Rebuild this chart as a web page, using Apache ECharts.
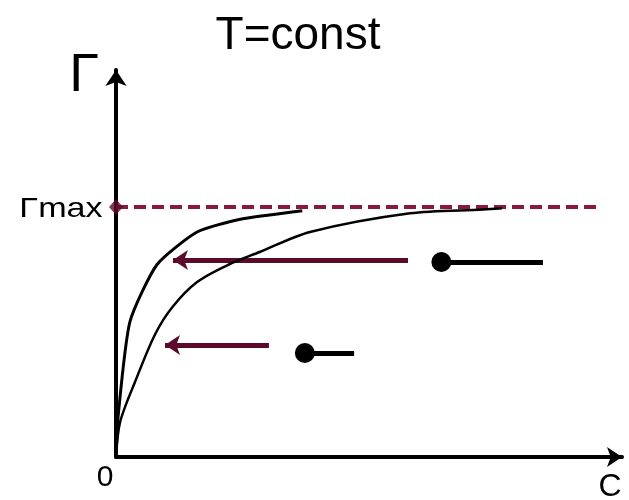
<!DOCTYPE html>
<html>
<head>
<meta charset="utf-8">
<script src="https://cdn.jsdelivr.net/npm/echarts@6/dist/echarts.min.js"></script>
<style>
  html, body { margin: 0; padding: 0; background: #fff; }
  #chart { width: 629px; height: 500px; }
</style>
</head>
<body>
<div id="chart"></div>
<script>
// Adsorption isotherms at constant temperature: surface excess Γ against concentration C.
// Γ is expressed in units of Γmax; C in arbitrary units.
const upperIsotherm = [[0, 0], [0.4, 0.16], [2.7, 0.54], [8, 0.77], [15.8, 0.9], [24, 0.95], [36.3, 0.985]];
const lowerIsotherm = [[0, 0], [0.8, 0.14], [3.7, 0.3], [7.6, 0.49], [11, 0.6], [15.8, 0.7], [22, 0.77],
                       [28, 0.82], [37.8, 0.9], [57.3, 0.975], [71.5, 0.99], [75.2, 0.995]];
const gammaMax = 1;
const gammaMaxLineEnd = 94.3;
// Arrows pointing towards the isotherms: [from C, to C, Γ]
const arrows = [[56.9, 11.1, 0.788], [29.8, 9.55, 0.448]];
// Molecule sketches (head circle + tail): [head C, tail end C, Γ]
const molecules = [[63.4, 83.2, 0.78], [36.8, 46.4, 0.416]];
const axisMax = { c: 98.6, gamma: 1.548 };
const labels = { title: 'T=const', yName: 'Γ', gammaMax: 'Γmax', origin: '0', xName: 'C' };

const maroon = '#8a1840';
const arrowColor = '#5c0a2b';
const fontFamily = '"Liberation Sans", Arial, sans-serif';

const chart = echarts.init(document.getElementById('chart'), null, { renderer: 'canvas' });

const axisCommon = {
  type: 'value',
  axisTick: { show: false },
  axisLabel: { show: false },
  splitLine: { show: false },
};

function label(text, x, y, size, extra) {
  return Object.assign({
    type: 'text', x: x, y: y,
    style: { text: text, fontSize: size, fontFamily: fontFamily, fill: '#000',
             align: 'center', verticalAlign: 'middle' },
  }, extra || {});
}

chart.setOption({
  animation: false,
  backgroundColor: '#ffffff',
  grid: { left: 116, right: 7, top: 70, bottom: 43 },
  xAxis: Object.assign({}, axisCommon, {
    min: 0, max: axisMax.c,
    axisLine: { show: true, symbol: ['none', 'arrow'], symbolSize: [15, 15],
                lineStyle: { color: '#000', width: 4 } },
  }),
  yAxis: Object.assign({}, axisCommon, {
    min: 0, max: axisMax.gamma,
    axisLine: { show: true, symbol: ['none', 'arrow'], symbolSize: [16, 16],
                lineStyle: { color: '#000', width: 4 } },
  }),
  series: [
    {
      type: 'line', data: [[0, gammaMax], [gammaMaxLineEnd, gammaMax]],
      showSymbol: false, silent: true,
      lineStyle: { color: maroon, width: 4, type: [12, 6] },
    },
    {
      type: 'scatter', data: [[0, gammaMax]], symbol: 'diamond', symbolSize: [14, 16],
      itemStyle: { color: '#5c0a2b' }, z: 5,
    },
    {
      type: 'line', data: upperIsotherm, showSymbol: false, smooth: 0.2,
      lineStyle: { color: '#000', width: 3 },
    },
    {
      type: 'line', data: lowerIsotherm, showSymbol: false, smooth: 0.3,
      lineStyle: { color: '#000', width: 2.5 },
    },
    {
      type: 'lines', coordinateSystem: 'cartesian2d',
      symbol: ['none', 'arrow'], symbolSize: 15,
      lineStyle: { color: arrowColor, width: 5, opacity: 1 },
      data: arrows.map(a => ({ coords: [[a[0], a[2]], [a[1], a[2]]] })),
    },
    {
      type: 'lines', coordinateSystem: 'cartesian2d',
      symbol: ['circle', 'none'], symbolSize: 20,
      lineStyle: { color: '#000', width: 5, opacity: 1 },
      data: molecules.map(m => ({ coords: [[m[0], m[2]], [m[1], m[2]]] })),
    },
  ],
  graphic: [
    label(labels.title, 298, 36, 46),
    label(labels.yName, 84, 76, 54),
    label(labels.gammaMax, 61, 209, 28, { scaleX: 1.22 }),
    label(labels.origin, 105, 478, 30),
    label(labels.xName, 610, 487, 32),
  ],
});
</script>
</body>
</html>
